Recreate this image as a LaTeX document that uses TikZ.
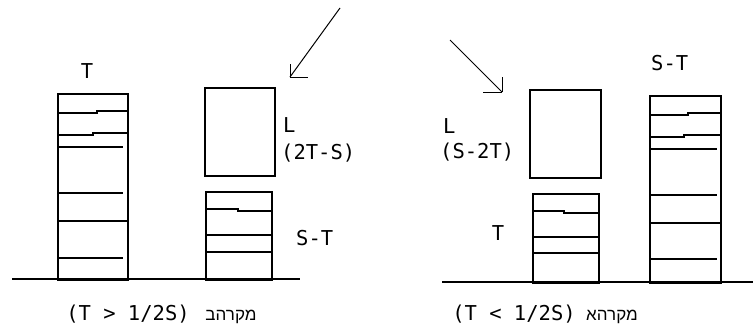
\documentclass[tikz,border=0pt]{standalone}
\usepackage{fontspec}
\setmainfont{DejaVu Sans Mono}
\newfontfamily\hebfont[Script=Hebrew]{Liberation Sans}
\TeXXeTstate=1
\begin{document}
\begin{tikzpicture}[x=1pt,y=-1pt,
  box/.style={draw,line width=1.5pt,inner sep=0pt,anchor=north west},
  rule/.style={line width=1.2pt},
  ground/.style={line width=1.1pt},
  lbl/.style={inner sep=0pt,font=\fontsize{20.5}{22}\selectfont},
  heb/.style={inner sep=0pt,font=\hebfont\fontsize{17}{20}\selectfont},
  arr/.style={line width=1pt}]
\useasboundingbox[fill=white] (0,0) rectangle (753,327);
% ---------- left panel (case B) ----------
\draw[ground] (12,279) coordinate (gLa) -- (300,279) coordinate (gLb);
\node[box,minimum width=70pt,minimum height=186pt] (tallL) at (57,93) {};
\node[box,minimum width=70pt,minimum height=88pt] (boxLL) at (204,87) {};
\node[box,minimum width=66pt,minimum height=88pt] (smallL) at (205,191) {};
% inner lines tall left
\draw[rule] (57,113) -- (97,113) -- (97,111) -- (127,111);
\draw[rule] (57,135) -- (93,135) -- (93,133) -- (127,133);
\draw[rule] (57,147) -- (123,147);
\draw[rule] (57,193) -- (123,193);
\draw[rule] (57,221) -- (127,221);
\draw[rule] (57,258) -- (123,258);
\draw[line width=2pt] (57,278.5) -- (127,278.5);
% inner lines small left
\draw[rule] (205,209) -- (238,209) -- (238,211) -- (271,211);
\draw[rule] (205,235) -- (271,235);
\draw[rule] (205,252) -- (271,252);
\draw[line width=2pt] (205,278.5) -- (271,278.5);
% labels
\node[lbl,anchor=base] (tT) at (87,78) {T};
\node[lbl,anchor=base west] (tL1) at (283,132) {L};
\node[lbl,anchor=base west] (t2TS) at (281,159) {(2T-S)};
\node[lbl,anchor=base west] (tST1) at (296,245) {S-T};
\node[lbl,anchor=base] (capB) at (128,320) {(T > 1/2S)};
\node[heb,anchor=base] (hebB) at (231,320) {\beginR מקרהב\endR};
% arrow
\coordinate (a1s) at (340,8);
\coordinate (a1t) at (290,77);
\draw[arr] (a1s) -- (a1t);
\draw[arr] (a1t) -- ++(0,-13);
\draw[arr] (a1t) -- ++(18,0);
% ---------- right panel (case A) ----------
\draw[ground] (442,282) coordinate (gRa) -- (753,282) coordinate (gRb);
\node[box,minimum width=71pt,minimum height=88pt] (boxLR) at (529,89) {};
\node[box,minimum width=66pt,minimum height=89pt] (smallR) at (532,193) {};
\node[box,minimum width=71pt,minimum height=187pt] (tallR) at (649,95) {};
% inner lines small right
\draw[rule] (532,211) -- (564,211) -- (564,213) -- (598,213);
\draw[rule] (532,237) -- (598,237);
\draw[rule] (532,253) -- (598,253);
\draw[line width=2pt] (532,281.5) -- (598,281.5);
% inner lines tall right
\draw[rule] (649,115) -- (688,115) -- (688,113) -- (720,113);
\draw[rule] (649,137) -- (684,137) -- (684,135) -- (720,135);
\draw[rule] (649,149) -- (717,149);
\draw[rule] (649,195) -- (717,195);
\draw[rule] (649,223) -- (720,223);
\draw[rule] (649,259) -- (717,259);
\draw[line width=2pt] (649,281.5) -- (720,281.5);
% labels
\node[lbl,anchor=base west] (tST2) at (651,70) {S-T};
\node[lbl,anchor=base west] (tL2) at (443,133) {L};
\node[lbl,anchor=base west] (tS2T) at (440,158) {(S-2T)};
\node[lbl,anchor=base] (tT2) at (498,240) {T};
\node[lbl,anchor=base] (capA) at (514,320) {(T < 1/2S)};
\node[heb,anchor=base] (hebA) at (612,320) {\beginR מקרהא\endR};
% arrow
\coordinate (a2s) at (450,40);
\coordinate (a2t) at (502,92);
\draw[arr] (a2s) -- (a2t);
\draw[arr] (a2t) -- ++(0,-15);
\draw[arr] (a2t) -- ++(-19,0);
\end{tikzpicture}
\end{document}
